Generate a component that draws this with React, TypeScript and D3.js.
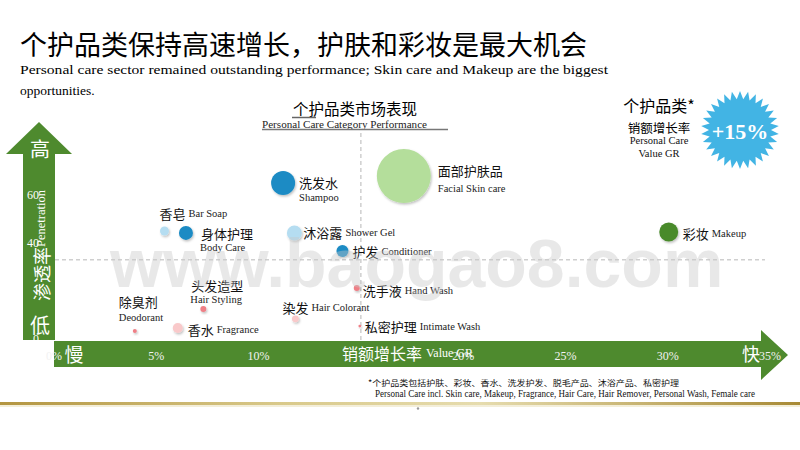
import React from "react";
import * as d3 from "d3";

// ---------- data ----------
const categoriesCn = ["面部护肤品", "洗发水", "彩妆", "身体护理", "沐浴露", "护发", "香水", "香皂", "染发", "洗手液", "头发造型", "除臭剂", "私密护理"];
const categoriesEn = ["Facial Skin care", "Shampoo", "Makeup", "Body Care", "Shower Gel", "Conditioner", "Fragrance", "Bar Soap", "Hair Colorant", "Hand Wash", "Hair Styling", "Deodorant", "Intimate Wash"];
const valueGrowth = [17.1, 11.2, 30.05, 6.45, 11.75, 14.1, 6.05, 5.4, 11.8, 14.8, 7.3, 3.95, 14.95];
const penetration = [67.9, 65.0, 44.6, 44.2, 44.2, 36.7, 4.6, 45.0, 8.4, 21.3, 12.5, 3.3, 5.4];
const marketSize = [729, 144, 90, 49, 56, 36, 25, 20, 12, 9, 9, 4, 2];

const xTicks = [0, 5, 10, 20, 25, 30, 35];
const yTicks = [0, 40, 60];
const avgGrowth = 15;
const avgPenetration = 33;
const totalGrowthLabel = "+15%";

// ---------- styles / layout (not data) ----------
const colorOf: Record<string, string> = {
  "Facial Skin care": "#b4de9b",
  Shampoo: "#1b8bc4",
  "Body Care": "#1b8bc4",
  Conditioner: "#1b8bc4",
  Makeup: "#4a8a2c",
  "Shower Gel": "#b5ddf1",
  "Bar Soap": "#b5ddf1",
  Fragrance: "#f9c9ca",
  "Hair Colorant": "#f9c9ca",
  "Hand Wash": "#ef7f86",
  "Hair Styling": "#ef7f86",
  Deodorant: "#ef7f86",
  "Intimate Wash": "#ef7f86",
};

// label offsets: two = stacked (cn above en)
const labelLayout: Record<string, { dx: number; dy: number; two?: boolean; edx?: number; edy?: number; cs?: number; es?: number }> = {
  "Facial Skin care": { dx: 34, dy: -6, two: true, edx: 34, edy: 12 },
  Shampoo: { dx: 16, dy: -1, two: true, edx: 16, edy: 14 },
  "Body Care": { dx: 15, dy: 1, two: true, edx: 14, edy: 15 },
  "Hair Styling": { dx: -12, dy: -24, two: true, edx: -13, edy: -10 },
  Deodorant: { dx: -16, dy: -30, two: true, edx: -16, edy: -14 },
  "Bar Soap": { dx: -5, dy: -18 },
  "Shower Gel": { dx: 9, dy: -1 },
  Conditioner: { dx: 10, dy: 0 },
  "Hand Wash": { dx: 6, dy: 2 },
  "Hair Colorant": { dx: -13, dy: -12 },
  "Intimate Wash": { dx: 5, dy: 0 },
  Fragrance: { dx: 10, dy: 1 },
  Makeup: { dx: 14, dy: 1 },
};

const GREEN = "#4e8a2e";
const CJK = "'Noto Sans CJK SC', 'Noto Sans', sans-serif";
const SERIF = "'Liberation Serif', 'DejaVu Serif', serif";

export default function App() {
  const W = 800;
  const H = 450;

  const x = d3.scaleLinear().domain([0, 35]).range([54, 770]);
  const y = d3.scaleLinear().domain([0, 60]).range([339, 195]);
  const r = d3.scaleSqrt().domain([0, 729]).range([0, 27]);

  const data = categoriesEn.map((en, i) => ({
    en,
    cn: categoriesCn[i],
    gx: valueGrowth[i],
    py: penetration[i],
    s: marketSize[i],
  }));

  // starburst
  const nPts = 30;
  const burstPts: [number, number][] = d3.range(nPts * 2).map((k) => [
    (k * Math.PI) / nPts,
    k % 2 === 0 ? 39 : 31,
  ]);
  const burst = d3.lineRadial().curve(d3.curveLinearClosed)(burstPts) || "";

  const yArrow = "M23,340 L23,154 L6,154 L39,122 L72,154 L55,154 L55,340 Z";
  const xArrow = "M54,341 L761,341 L761,330 L788,355 L761,380 L761,367 L54,367 Z";

  return (
    <svg width={W} height={H} style={{ position: "absolute", left: 0, top: 0, background: "#fff" }}>
      <defs>
        <filter id="sh" x="-50%" y="-50%" width="200%" height="200%">
          <feDropShadow dx="1" dy="1.5" stdDeviation="1.2" floodColor="#000" floodOpacity="0.25" />
        </filter>
        <linearGradient id="gold" x1="0" x2="1" y1="0" y2="0">
          <stop offset="0" stopColor="#b39540" />
          <stop offset="0.35" stopColor="#d9c98a" />
          <stop offset="0.6" stopColor="#e6dcae" />
          <stop offset="1" stopColor="#a88a35" />
        </linearGradient>
      </defs>

      {/* Title */}
      <text x={20} y={55} fontFamily={CJK} fontSize={27} fill="#000">
        个护品类保持高速增长，护肤和彩妆是最大机会
      </text>
      <text x={20} y={74} fontFamily={SERIF} fontSize={13.5} fill="#000" textLength={588} lengthAdjust="spacingAndGlyphs">
        Personal care sector remained outstanding  performance;  Skin care and Makeup are the biggest
      </text>
      <text x={20} y={95} fontFamily={SERIF} fontSize={13.5} fill="#000">
        opportunities.
      </text>

      {/* chart heading */}
      <text x={355} y={115} fontFamily={CJK} fontSize={15.5} fill="#000" textAnchor="middle">
        个护品类市场表现
      </text>
      <line x1={292} x2={316} y1={117.5} y2={117.5} stroke="#666" strokeWidth={1.5} />
      <text x={262} y={128} fontFamily={SERIF} fontSize={9.5} fill="#222" textLength={165} lengthAdjust="spacingAndGlyphs">
        Personal Care Category Performance
      </text>
      <line x1={262} x2={448} y1={129.5} y2={129.5} stroke="#777" strokeWidth={1.5} />

      {/* dashed reference lines */}
      <line x1={x(avgGrowth)} x2={x(avgGrowth)} y1={133} y2={341} stroke="#cfcfcf" strokeWidth={1.5} strokeDasharray="4,3" />
      <line x1={55} x2={765} y1={y(avgPenetration)} y2={y(avgPenetration)} stroke="#cfcfcf" strokeWidth={1.5} strokeDasharray="4,3" />

      {/* bubbles */}
      {data.map((d) => (
        <circle key={d.en} cx={x(d.gx)} cy={y(d.py)} r={r(d.s)} fill={colorOf[d.en]} filter="url(#sh)" />
      ))}

      {/* labels */}
      {data.map((d) => {
        const L = labelLayout[d.en];
        const cx = x(d.gx);
        const cy = y(d.py);
        if (L.two) {
          return (
            <g key={"l" + d.en}>
              <text x={cx + L.dx} y={cy + L.dy} fontFamily={CJK} fontSize={13} fill="#111" dominantBaseline="central">
                {d.cn}
              </text>
              <text x={cx + (L.edx ?? L.dx)} y={cy + (L.edy ?? 0)} fontFamily={SERIF} fontSize={10.5} fill="#222" dominantBaseline="central">
                {d.en}
              </text>
            </g>
          );
        }
        return (
          <text key={"l" + d.en} x={cx + L.dx} y={cy + L.dy} dominantBaseline="central" fill="#111">
            <tspan fontFamily={CJK} fontSize={13}>{d.cn}</tspan>
            <tspan fontFamily={SERIF} fontSize={10.5} fill="#222" dx={3}>{d.en}</tspan>
          </text>
        );
      })}

      {/* Y axis arrow */}
      <path d={yArrow} fill={GREEN} />
      <text x={40} y={148} fontFamily={CJK} fontSize={20} fill="#fff" textAnchor="middle" dominantBaseline="central">高</text>
      <text x={40} y={324} fontFamily={CJK} fontSize={20} fill="#fff" textAnchor="middle" dominantBaseline="central">低</text>
      {yTicks.map((t) => (
        <text key={"yt" + t} x={39} y={y(t)} fontFamily={SERIF} fontSize={12} fill="#fff" textAnchor="end" dominantBaseline="central">
          {t}
        </text>
      ))}
      <text transform="translate(41,301) rotate(-90)" dominantBaseline="central" fill="#fff">
        <tspan fontFamily={CJK} fontSize={18}>渗透率</tspan>
        <tspan fontFamily={SERIF} fontSize={12.5}>Penetration</tspan>
      </text>

      {/* X axis arrow */}
      <path d={xArrow} fill={GREEN} />
      {xTicks.map((t) => (
        <text key={"xt" + t} x={x(t)} y={356} fontFamily={SERIF} fontSize={12} fill="#f2f2f2" textAnchor="middle" dominantBaseline="central">
          {t}%
        </text>
      ))}
      <text x={74} y={353} fontFamily={CJK} fontSize={19} fill="#fff" textAnchor="middle" dominantBaseline="central">慢</text>
      <text x={751} y={353} fontFamily={CJK} fontSize={18} fill="#fff" textAnchor="middle" dominantBaseline="central">快</text>
      <text x={342} y={353} dominantBaseline="central" fill="#fff">
        <tspan fontFamily={CJK} fontSize={16}>销额增长率</tspan>
        <tspan fontFamily={SERIF} fontSize={12} dx={4}>Value GR</tspan>
      </text>

      {/* top-right badge */}
      <text x={659} y={105} fontFamily={CJK} fontSize={16} fill="#000" textAnchor="middle" dominantBaseline="central">
        个护品类*
      </text>
      <text x={659} y={127} fontFamily={CJK} fontSize={12.5} fill="#000" textAnchor="middle" dominantBaseline="central">
        销额增长率
      </text>
      <text x={659} y={140.5} fontFamily={SERIF} fontSize={10.5} fill="#111" textAnchor="middle" dominantBaseline="central">
        Personal Care
      </text>
      <text x={659} y={153} fontFamily={SERIF} fontSize={10.5} fill="#111" textAnchor="middle" dominantBaseline="central">
        Value GR
      </text>
      <path d={burst} transform="translate(740,130)" fill="#42b4e4" />
      <text x={740} y={131} fontFamily={SERIF} fontWeight="bold" fontSize={22} fill="#fff" textAnchor="middle" dominantBaseline="central">
        {totalGrowthLabel}
      </text>

      {/* footnote */}
      <text x={368} y={382} fontFamily={CJK} fontSize={8.4} fill="#111" dominantBaseline="central" textLength={311} lengthAdjust="spacingAndGlyphs">
        *个护品类包括护肤、彩妆、香水、洗发护发、脱毛产品、沐浴产品、私密护理
      </text>
      <text x={375} y={393.5} fontFamily={SERIF} fontSize={9.5} fill="#111" dominantBaseline="central" textLength={380} lengthAdjust="spacingAndGlyphs">
        Personal Care incl. Skin care, Makeup, Fragrance, Hair Care, Hair Remover, Personal Wash, Female care
      </text>

      {/* bottom gold rule */}
      <rect x={0} y={402} width={800} height={3} fill="url(#gold)" />
      <rect x={0} y={405} width={800} height={2} fill="#f3eed9" />
      <circle cx={418} cy={408.5} r={1.2} fill="#999" />

      {/* watermark */}
      <text x={110} y={287} fontFamily="'Liberation Sans', Arial, sans-serif" fontWeight="bold" fontSize={68} fill="#c8c8c8" opacity={0.4}>
        www.baogao8.com
      </text>
    </svg>
  );
}
